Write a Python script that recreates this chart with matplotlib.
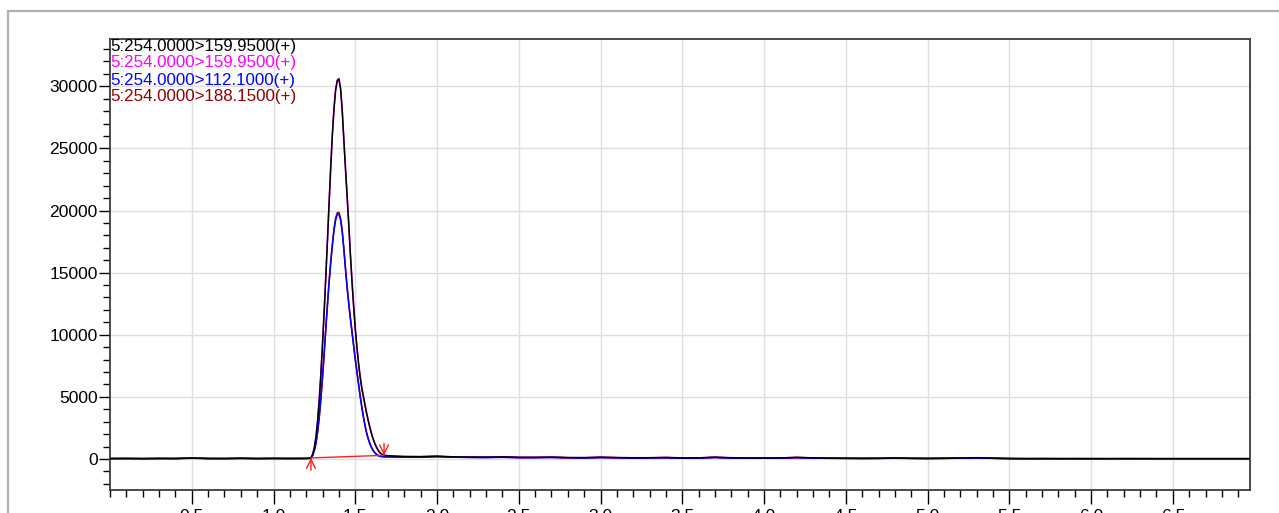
import matplotlib
matplotlib.use("Agg")
import matplotlib.pyplot as plt
from matplotlib.lines import Line2D
from matplotlib.ticker import MultipleLocator, FixedLocator, FormatStrFormatter

# ---------------- data ----------------
time_min = [0.0, 0.1, 0.2, 0.3, 0.4, 0.5, 0.6, 0.7, 0.8, 0.9, 1.0, 1.1,
            1.20, 1.21, 1.22, 1.23, 1.24, 1.25, 1.26, 1.27, 1.28, 1.29,
            1.30, 1.31, 1.32, 1.33, 1.34, 1.35, 1.36, 1.37, 1.38, 1.39,
            1.40, 1.41, 1.42, 1.43, 1.44, 1.45, 1.46, 1.47, 1.48, 1.49,
            1.50, 1.51, 1.52, 1.53, 1.54, 1.55, 1.56, 1.57, 1.58, 1.59,
            1.60, 1.61, 1.62, 1.63, 1.64, 1.65, 1.66, 1.67, 1.68, 1.69, 1.70,
            1.75, 1.8, 1.9, 2.0, 2.1, 2.2, 2.3, 2.4, 2.5, 2.6, 2.7, 2.8, 2.9,
            3.0, 3.1, 3.2, 3.3, 3.4, 3.5, 3.6, 3.7, 3.8, 3.9, 4.0, 4.1, 4.2,
            4.3, 4.4, 4.5, 4.6, 4.7, 4.8, 4.9, 5.0, 5.1, 5.2, 5.3, 5.4, 5.5,
            5.6, 5.7, 5.8, 5.9, 6.0, 6.1, 6.2, 6.3, 6.4, 6.5, 6.6, 6.7, 6.8,
            6.9, 6.97]

# 5:254.0000>159.9500(+)  (black)
mrm_159_black = [40, 45, 35, 50, 40, 75, 45, 40, 55, 40, 50, 45,
                 50, 55, 60, 110, 400, 950, 1800, 3100, 4800, 6900,
                 9300, 11900, 14700, 17600, 20600, 23500, 26100, 28200, 29700, 30450,
                 30580, 29800, 28100, 25700, 23400, 21200, 18900, 16500, 14300, 12300,
                 10500, 9000, 7700, 6600, 5700, 5000, 4300, 3650, 3050, 2500,
                 2000, 1580, 1230, 940, 700, 520, 400, 330, 295, 275, 265,
                 230, 200, 190, 230, 170, 160, 150, 170, 140, 130, 150, 120, 110,
                 140, 120, 100, 110, 120, 90, 100, 140, 100, 90, 80, 90, 130,
                 100, 70, 60, 55, 60, 80, 60, 50, 60, 80, 110, 70, 40,
                 35, 35, 30, 35, 30, 30, 35, 30, 30, 30, 30, 30, 30,
                 30, 30]

# 5:254.0000>159.9500(+)  (magenta)
mrm_159_magenta = [45, 40, 40, 45, 50, 90, 40, 45, 70, 45, 55, 40,
                   55, 60, 65, 115, 410, 960, 1820, 3120, 4830, 6940,
                   9350, 11950, 14750, 17650, 20650, 23550, 26150, 28250, 29750, 30500,
                   30620, 29830, 28130, 25730, 23430, 21230, 18930, 16530, 14330, 12330,
                   10530, 9030, 7730, 6630, 5730, 5030, 4330, 3680, 3080, 2530,
                   2030, 1600, 1250, 960, 720, 540, 420, 350, 300, 280, 270,
                   240, 210, 200, 240, 180, 150, 160, 180, 130, 140, 160, 110, 120,
                   150, 110, 110, 100, 130, 100, 90, 150, 110, 80, 90, 100, 120,
                   90, 80, 70, 50, 55, 90, 55, 45, 70, 90, 100, 60, 45,
                   30, 40, 35, 30, 35, 30, 30, 35, 30, 30, 30, 30, 30,
                   30, 30]

# 5:254.0000>112.1000(+)  (blue)
mrm_112_blue = [35, 40, 30, 45, 35, 60, 40, 35, 45, 35, 45, 40,
                45, 50, 55, 95, 300, 700, 1300, 2200, 3400, 4900,
                6600, 8500, 10500, 12400, 14200, 15800, 17200, 18400, 19250, 19680,
                19700, 19250, 18300, 16900, 15300, 13800, 12500, 11300, 10200, 9100,
                8000, 7000, 6000, 5050, 4150, 3350, 2650, 2050, 1580, 1200,
                900, 670, 490, 360, 270, 215, 190, 180, 175, 170, 170,
                160, 150, 150, 190, 150, 130, 120, 140, 110, 110, 120, 100, 90,
                120, 100, 80, 90, 100, 70, 80, 120, 80, 70, 70, 70, 110,
                80, 60, 50, 50, 50, 70, 50, 40, 50, 70, 90, 60, 35,
                30, 30, 30, 30, 30, 30, 30, 30, 30, 30, 30, 30, 30,
                30, 30]

# 5:254.0000>188.1500(+)  (dark red)
mrm_188_darkred = [40, 50, 35, 40, 45, 95, 45, 40, 75, 40, 50, 45,
                   50, 55, 60, 100, 310, 720, 1330, 2240, 3450, 4960,
                   6670, 8580, 10580, 12500, 14300, 15900, 17300, 18520, 19380, 19820,
                   19850, 19380, 18420, 17000, 15400, 13880, 12580, 11380, 10280, 9180,
                   8080, 7080, 6080, 5120, 4220, 3420, 2700, 2100, 1620, 1240,
                   930, 700, 520, 390, 300, 240, 220, 210, 200, 190, 190,
                   180, 170, 160, 200, 160, 140, 130, 160, 120, 130, 140, 110, 100,
                   130, 110, 90, 100, 120, 80, 90, 140, 90, 80, 80, 90, 130,
                   90, 70, 60, 50, 60, 90, 60, 50, 60, 80, 100, 60, 40,
                   30, 35, 30, 30, 30, 30, 30, 30, 30, 30, 30, 30, 30,
                   30, 30]

series_labels = ["5:254.0000>159.9500(+)", "5:254.0000>159.9500(+)",
                 "5:254.0000>112.1000(+)", "5:254.0000>188.1500(+)"]
series_colors = ["#000000", "#ff00ff", "#0000ff", "#8b0000"]

# integration baseline (start / end of peak)
baseline_t = [1.229, 1.676]
baseline_y = [90, 300]

x_major = [0.5, 1.0, 1.5, 2.0, 2.5, 3.0, 3.5, 4.0, 4.5, 5.0, 5.5, 6.0, 6.5]
y_major = [0, 5000, 10000, 15000, 20000, 25000, 30000]

# ---------------- figure ----------------
W, H = 1279, 513
plt.rcParams['font.family'] = ['Liberation Sans', 'DejaVu Sans']
fig = plt.figure(figsize=(W / 100, H / 100), dpi=100)
fig.patch.set_facecolor('white')

ax = fig.add_axes([110 / W, 1 - 490 / H, (1250 - 110) / W, (490 - 39) / H])

# series: draw order so black/blue end on top
ax.plot(time_min, mrm_188_darkred, color=series_colors[3], lw=1.1, zorder=3)
ax.plot(time_min, mrm_112_blue, color=series_colors[2], lw=1.1, zorder=4)
ax.plot(time_min, mrm_159_magenta, color=series_colors[1], lw=1.1, zorder=3)
ax.plot(time_min, mrm_159_black, color=series_colors[0], lw=1.1, zorder=5)

# integration baseline and arrows
ax.plot(baseline_t, baseline_y, color='#ff2020', lw=1.0, zorder=6)
ax.annotate('', xy=(baseline_t[0], baseline_y[0]), xytext=(baseline_t[0], -900),
            arrowprops=dict(arrowstyle='->', color='#ff2020', lw=1.0,
                            mutation_scale=16, shrinkA=0, shrinkB=0), zorder=6)
ax.annotate('', xy=(baseline_t[1], baseline_y[1]), xytext=(baseline_t[1], 1250),
            arrowprops=dict(arrowstyle='->', color='#ff2020', lw=1.0,
                            mutation_scale=16, shrinkA=0, shrinkB=0), zorder=6)

ax.set_xlim(0.0, 6.972)
ax.set_ylim(-2490, 33800)

ax.xaxis.set_major_locator(FixedLocator(x_major))
ax.xaxis.set_minor_locator(MultipleLocator(0.1))
ax.xaxis.set_major_formatter(FormatStrFormatter('%.1f'))
ax.yaxis.set_major_locator(FixedLocator(y_major))
ax.yaxis.set_minor_locator(MultipleLocator(1000))

ax.grid(True, which='major', color='#dedede', lw=1.0, zorder=0)
ax.set_axisbelow(True)

ax.tick_params(axis='x', which='major', direction='out', length=10, width=1,
               pad=4, labelsize=12.6, colors='black')
ax.tick_params(axis='x', which='minor', direction='out', length=5, width=1)
ax.tick_params(axis='y', which='major', direction='out', length=8, width=1,
               pad=1, labelsize=12.6)
ax.tick_params(axis='y', which='minor', direction='out', length=5, width=1)

for sp in ax.spines.values():
    sp.set_color('#3c3c3c')
    sp.set_linewidth(1.3)

# channel labels (top-left)
for i, (lab, col) in enumerate(zip(series_labels, series_colors)):
    fig.text(110 / W, 1 - (46 + 17 * i) / H, lab, color=col, fontsize=12.2,
             ha='left', va='center')

# outer frame (gray), partially off-canvas
fig.add_artist(Line2D([8 / W, 1.0], [1 - 11 / H, 1 - 11 / H], color='#b0b0b0', lw=1.6))
fig.add_artist(Line2D([8 / W, 8 / W], [0.0, 1 - 11 / H], color='#b0b0b0', lw=1.6))

fig.savefig('out.png', dpi=100, facecolor='white')
